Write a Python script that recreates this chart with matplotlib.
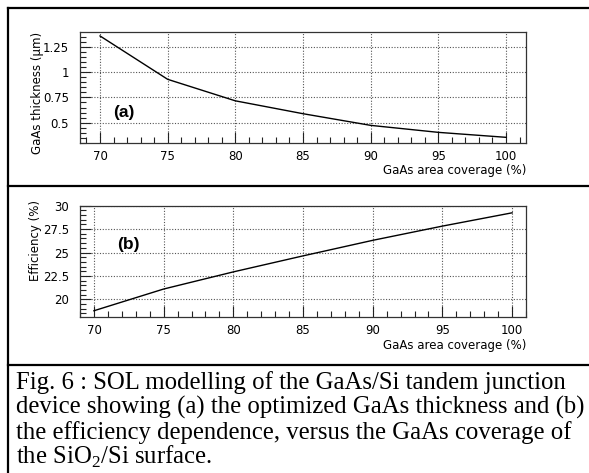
import matplotlib
matplotlib.use('Agg')
import matplotlib.pyplot as plt
from matplotlib.lines import Line2D
from matplotlib.ticker import MultipleLocator

plt.rcParams['mathtext.fontset'] = 'custom'
plt.rcParams['mathtext.rm'] = 'Liberation Serif'

coverage = [70, 75, 80, 85, 90, 95, 100]
thickness = [1.356, 0.928, 0.716, 0.589, 0.474, 0.405, 0.356]
efficiency = [18.78, 21.1, 22.93, 24.64, 26.3, 27.82, 29.24]

caption_lines = [
    "Fig. 6 : SOL modelling of the GaAs/Si tandem junction",
    "device showing (a) the optimized GaAs thickness and (b)",
    "the efficiency dependence, versus the GaAs coverage of",
    "the SiO$_2$/Si surface.",
]

W, H = 589, 473
fig = plt.figure(figsize=(W / 100, H / 100), dpi=100)
fig.patch.set_facecolor('white')


def fx(px):
    return px / W


def fy(py):
    return 1 - py / H


def style_axes(ax, ymajor, yminor):
    ax.xaxis.set_major_locator(MultipleLocator(5))
    ax.xaxis.set_minor_locator(MultipleLocator(1))
    ax.yaxis.set_major_locator(MultipleLocator(ymajor))
    ax.yaxis.set_minor_locator(MultipleLocator(yminor))
    ax.tick_params(which='major', direction='in', length=8, width=0.8,
                   labelsize=8.5, top=False, right=False, color='#222222')
    ax.tick_params(which='minor', direction='in', length=4, width=0.8,
                   top=False, right=False, color='#222222')
    ax.tick_params(axis='x', pad=5)
    ax.tick_params(axis='y', pad=8)
    ax.grid(True, which='major', linestyle=(0, (1, 1.5)), linewidth=0.8, color='#555555')
    for sp in ax.spines.values():
        sp.set_linewidth(0.9)
        sp.set_color('#333333')


# panel (a)
ax1 = fig.add_axes([fx(80), fy(143), fx(446), (143 - 32) / H])
ax1.plot(coverage, thickness, color='black', lw=1.0)
ax1.set_xlim(68.52, 101.48)
ax1.set_ylim(0.30, 1.395)
style_axes(ax1, 0.25, 0.05)
ax1.set_yticks([0.5, 0.75, 1.0, 1.25])
ax1.set_yticklabels(['0.5', '0.75', '1', '1.25'])
ax1.text(0.074, 0.279, '(a)', transform=ax1.transAxes, fontsize=12.5,
         fontweight='bold', family='Liberation Sans', va='center', ha='left')
fig.text(fx(526), fy(170), 'GaAs area coverage (%)', ha='right', va='center', fontsize=8.5)
fig.text(fx(38), fy(32), 'GaAs thickness (\u03bcm)', rotation=90, ha='center', va='top', fontsize=8.5)

# panel (b)
ax2 = fig.add_axes([fx(80), fy(317.3), fx(446), (317.3 - 205.7) / H])
ax2.plot(coverage, efficiency, color='black', lw=1.0)
ax2.set_xlim(69.0, 101.0)
ax2.set_ylim(18.08, 30.0)
style_axes(ax2, 2.5, 0.5)
ax2.set_yticks([20, 22.5, 25, 27.5, 30])
ax2.set_yticklabels(['20', '22.5', '25', '27.5', '30'])
ax2.text(0.083, 0.648, '(b)', transform=ax2.transAxes, fontsize=12.5,
         fontweight='bold', family='Liberation Sans', va='center', ha='left')
fig.text(fx(526), fy(345), 'GaAs area coverage (%)', ha='right', va='center', fontsize=8.5)
fig.text(fx(35), fy(200), 'Efficiency (%)', rotation=90, ha='center', va='top', fontsize=8.5)

# frame lines
lw = 1.6
fig.add_artist(Line2D([fx(8), 1.0], [fy(8), fy(8)], color='black', lw=lw))
fig.add_artist(Line2D([fx(8), fx(8)], [fy(8), 0.0], color='black', lw=lw))
fig.add_artist(Line2D([fx(8), 1.0], [fy(186), fy(186)], color='black', lw=lw))
fig.add_artist(Line2D([fx(8), 1.0], [fy(365), fy(365)], color='black', lw=lw))

# caption
baselines = [389, 414, 439, 464]
for line, b in zip(caption_lines, baselines):
    fig.text(fx(16), fy(b), line, ha='left', va='baseline', fontsize=17.8,
             family='Liberation Serif')

fig.savefig('out.png', dpi=100)
